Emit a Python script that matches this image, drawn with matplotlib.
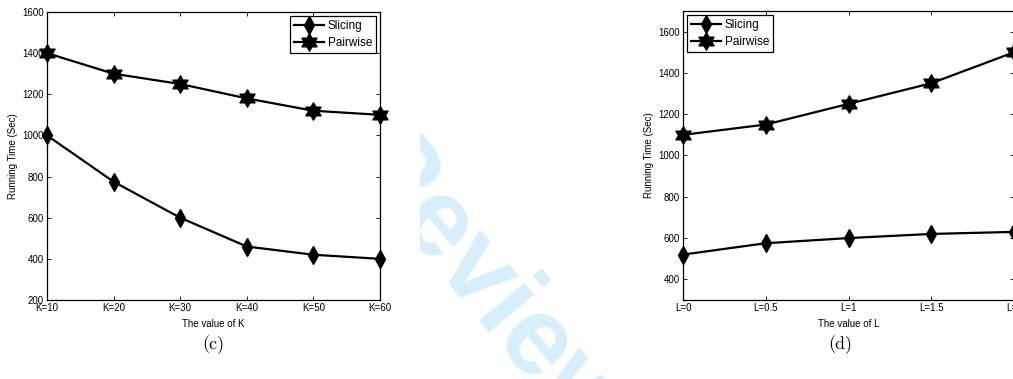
import numpy as np
import matplotlib.pyplot as plt
from matplotlib.path import Path
from matplotlib.transforms import Bbox

plt.rcParams['font.family'] = ['Liberation Sans', 'DejaVu Sans']

# panel (c): running time vs K
k_labels = ['K=10', 'K=20', 'K=30', 'K=40', 'K=50', 'K=60']
k_slicing = [1000, 775, 600, 460, 420, 400]
k_pairwise = [1400, 1300, 1250, 1180, 1120, 1100]

# panel (d): running time vs L
l_labels = ['L=0', 'L=0.5', 'L=1', 'L=1.5', 'L=2']
l_slicing = [520, 575, 600, 620, 630]
l_pairwise = [1100, 1150, 1250, 1350, 1500]

# six-pointed star (hexagram), tip pointing up
ang = np.pi / 2 + np.arange(12) * np.pi / 6
rad = np.where(np.arange(12) % 2 == 0, 1.0, 1 / np.sqrt(3))
hex_verts = np.column_stack([rad * np.cos(ang), rad * np.sin(ang)])
hex_verts = np.vstack([hex_verts, hex_verts[:1]])
hexagram = Path(hex_verts, closed=True)

W, H = 1013, 379
fig = plt.figure(figsize=(W / 100, H / 100), dpi=100)


def ax_rect(x0, x1, y0, y1):
    return [x0 / W, 1 - y1 / H, (x1 - x0) / W, (y1 - y0) / H]


def panel(rect, labels, slicing, pairwise, ylim, yticks, xlabel, loc):
    ax = fig.add_axes(rect)
    x = np.arange(len(labels))
    ax.plot(x, slicing, color='k', lw=1.6, marker='d', ms=9.3,
            mfc='k', mec='k', label='Slicing', clip_on=False, zorder=3)
    ax.plot(x, pairwise, color='k', lw=1.6, marker=hexagram, ms=12.5,
            mfc='k', mec='k', label='Pairwise', clip_on=False, zorder=3)
    ax.set_xlim(0, len(labels) - 1)
    ax.set_ylim(*ylim)
    ax.set_xticks(x)
    ax.set_xticklabels(labels)
    ax.set_yticks(yticks)
    ax.tick_params(direction='in', length=3, width=0.6, labelsize=7,
                   top=True, right=True, pad=2.5)
    for s in ax.spines.values():
        s.set_linewidth(0.9)
    ax.set_xlabel(xlabel, fontsize=7, labelpad=4)
    ax.set_ylabel('Running Time (Sec)', fontsize=7, labelpad=3)
    leg = ax.legend(loc=loc, fontsize=8.5, numpoints=1, handlelength=2.6,
                    handletextpad=0.3, borderpad=0.35, labelspacing=0.45,
                    fancybox=False, framealpha=1, borderaxespad=0.3)
    leg.get_frame().set_edgecolor('k')
    leg.get_frame().set_linewidth(0.9)
    return ax


panel(ax_rect(47, 380, 12, 300), k_labels, k_slicing, k_pairwise,
      (200, 1600), range(200, 1601, 200), 'The value of K', 'upper right')
panel(ax_rect(683, 1014, 11, 300), l_labels, l_slicing, l_pairwise,
      (300, 1700), range(400, 1601, 200), 'The value of L', 'upper left')

fig.text(213 / W, 1 - 345 / H, '(c)', family='cmr10', fontsize=13,
         ha='center', va='center')
fig.text(840 / W, 1 - 345 / H, '(d)', family='cmr10', fontsize=13,
         ha='center', va='center')

# faint diagonal stamp between the panels
wm = fig.text(486 / W, 1 - 292 / H, 'Review', fontsize=80, weight='bold',
              color='#d6effb', rotation=-50, rotation_mode='anchor',
              ha='center', va='center', zorder=0)
wm.set_clip_box(Bbox.from_extents(420, 0, W, H))

fig.savefig('out.png', dpi=100)
